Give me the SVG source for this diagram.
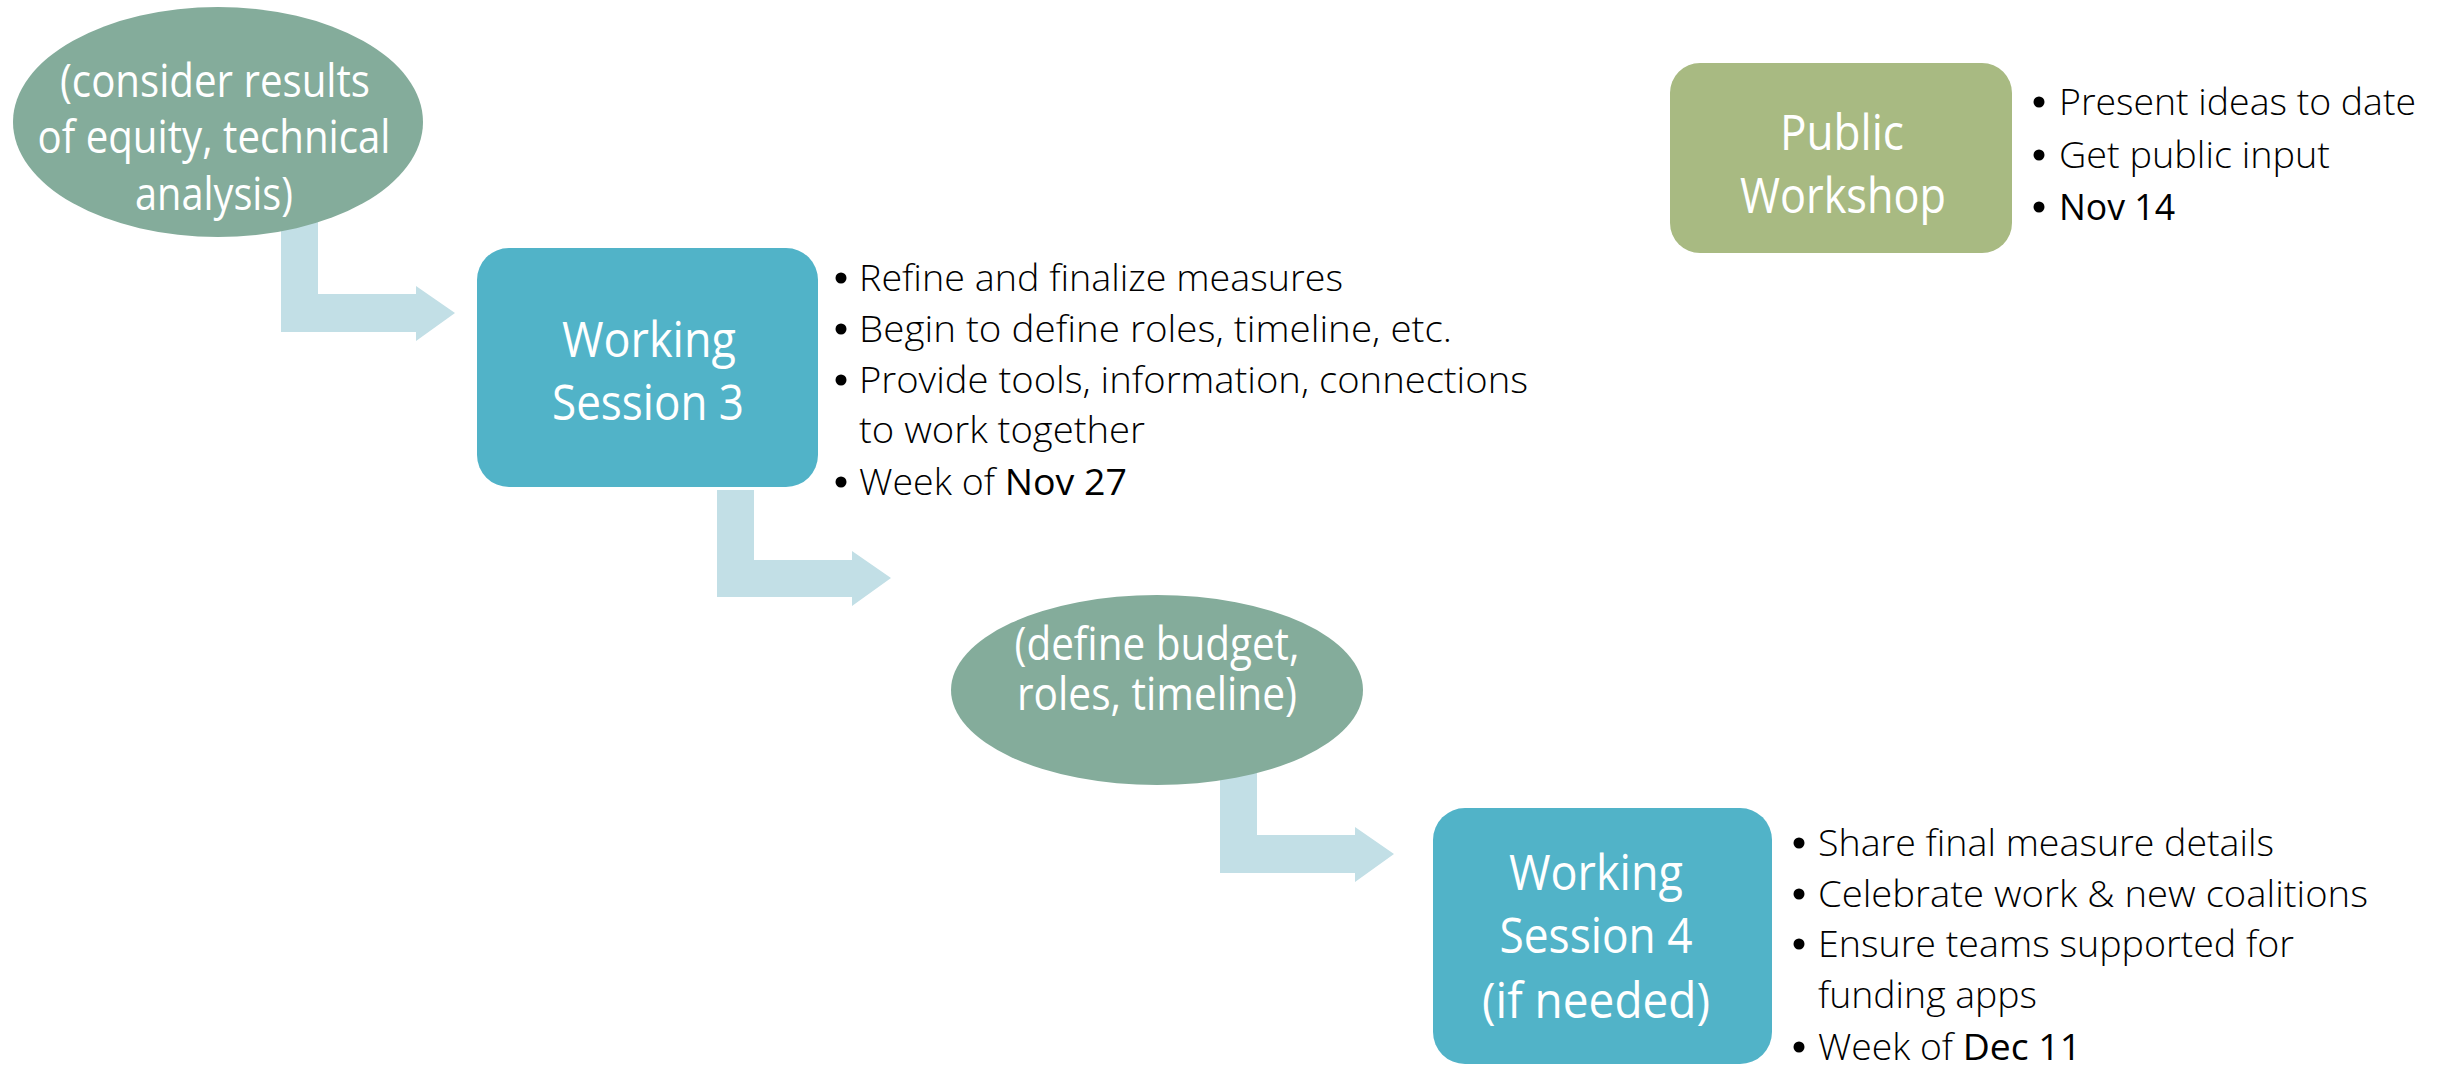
<svg xmlns="http://www.w3.org/2000/svg" width="2443" height="1066" viewBox="0 0 2443 1066">
<style>
.bg{fill:#ffffff}
.arrow{fill:#C2DFE6}
.oval{fill:#84AC9B}
.ws{fill:#51B3C8}
.pub{fill:#A8BA82}
.nt{font-family:"Open Sans","Liberation Sans",sans-serif;font-weight:400;fill:#ffffff;text-anchor:middle}
.big{font-size:50px}
.ov{font-size:46px}
.bt{font-family:"Open Sans","Liberation Sans",sans-serif;font-weight:300;font-size:36px;fill:#000000}
.b{font-weight:400}
.dot{fill:#000000}
</style>
<rect class="bg" x="0" y="0" width="2443" height="1066"/>
<g id="connectors">
<polygon class="arrow" points="281,200 318,200 318,294 416,294 416,286 455,313 416,341 416,332 281,332"/>
<polygon class="arrow" points="717,490 754,490 754,560 852,560 852,551 891,578 852,606 852,597 717,597"/>
<polygon class="arrow" points="1220,760 1257,760 1257,835 1355,835 1355,827 1394,854 1355,882 1355,873 1220,873"/>
</g>
<g id="node-consider">
<ellipse class="oval" cx="218" cy="122" rx="205" ry="115"/>
<text class="nt ov" x="215" y="97" textLength="310" lengthAdjust="spacingAndGlyphs">(consider results</text>
<text class="nt ov" x="214" y="153" textLength="353" lengthAdjust="spacingAndGlyphs">of equity, technical</text>
<text class="nt ov" x="214" y="210" textLength="158" lengthAdjust="spacingAndGlyphs">analysis)</text>
</g>
<g id="node-ws3">
<rect class="ws" x="477" y="248" width="341" height="239" rx="32" ry="32"/>
<text class="nt big" x="649" y="357" textLength="174" lengthAdjust="spacingAndGlyphs">Working</text>
<text class="nt big" x="648" y="420" textLength="192" lengthAdjust="spacingAndGlyphs">Session 3</text>
</g>
<g id="list-ws3">
<circle class="dot" cx="841" cy="278" r="5.5"/>
<text class="bt" x="859" y="291" textLength="484" lengthAdjust="spacingAndGlyphs">Refine and finalize measures</text>
<circle class="dot" cx="841" cy="329" r="5.5"/>
<text class="bt" x="859" y="342" textLength="593" lengthAdjust="spacingAndGlyphs">Begin to define roles, timeline, etc.</text>
<circle class="dot" cx="841" cy="380" r="5.5"/>
<text class="bt" x="859" y="393" textLength="669" lengthAdjust="spacingAndGlyphs">Provide tools, information, connections</text>
<text class="bt" x="859" y="443" textLength="286" lengthAdjust="spacingAndGlyphs">to work together</text>
<circle class="dot" cx="841" cy="482" r="5.5"/>
<text class="bt" x="859" y="495" textLength="268" lengthAdjust="spacingAndGlyphs">Week of <tspan class="b">Nov 27</tspan></text>
</g>
<g id="node-public">
<rect class="pub" x="1670" y="63" width="342" height="190" rx="30" ry="30"/>
<text class="nt big" x="1842" y="150" textLength="124" lengthAdjust="spacingAndGlyphs">Public</text>
<text class="nt big" x="1843" y="213" textLength="206" lengthAdjust="spacingAndGlyphs">Workshop</text>
</g>
<g id="list-public">
<circle class="dot" cx="2039" cy="102" r="5.5"/>
<text class="bt" x="2059" y="115" textLength="357" lengthAdjust="spacingAndGlyphs">Present ideas to date</text>
<circle class="dot" cx="2039" cy="155" r="5.5"/>
<text class="bt" x="2059" y="168" textLength="271" lengthAdjust="spacingAndGlyphs">Get public input</text>
<circle class="dot" cx="2039" cy="207" r="5.5"/>
<text class="bt b" x="2059" y="220" textLength="116" lengthAdjust="spacingAndGlyphs">Nov 14</text>
</g>
<g id="node-budget">
<ellipse class="oval" cx="1157" cy="690" rx="206" ry="95"/>
<text class="nt ov" x="1157" y="660" textLength="285" lengthAdjust="spacingAndGlyphs">(define budget,</text>
<text class="nt ov" x="1157" y="710" textLength="280" lengthAdjust="spacingAndGlyphs">roles, timeline)</text>
</g>
<g id="node-ws4">
<rect class="ws" x="1433" y="808" width="339" height="256" rx="32" ry="32"/>
<text class="nt big" x="1596" y="890" textLength="174" lengthAdjust="spacingAndGlyphs">Working</text>
<text class="nt big" x="1596" y="953" textLength="193" lengthAdjust="spacingAndGlyphs">Session 4</text>
<text class="nt big" x="1596" y="1018" textLength="228" lengthAdjust="spacingAndGlyphs">(if needed)</text>
</g>
<g id="list-ws4">
<circle class="dot" cx="1799" cy="843" r="5.5"/>
<text class="bt" x="1818" y="856" textLength="456" lengthAdjust="spacingAndGlyphs">Share final measure details</text>
<circle class="dot" cx="1799" cy="894" r="5.5"/>
<text class="bt" x="1818" y="907" textLength="550" lengthAdjust="spacingAndGlyphs">Celebrate work &amp; new coalitions</text>
<circle class="dot" cx="1799" cy="944" r="5.5"/>
<text class="bt" x="1818" y="957" textLength="476" lengthAdjust="spacingAndGlyphs">Ensure teams supported for</text>
<text class="bt" x="1818" y="1008" textLength="219" lengthAdjust="spacingAndGlyphs">funding apps</text>
<circle class="dot" cx="1799" cy="1047" r="5.5"/>
<text class="bt" x="1818" y="1060" textLength="263" lengthAdjust="spacingAndGlyphs">Week of <tspan class="b">Dec 11</tspan></text>
</g>
</svg>
